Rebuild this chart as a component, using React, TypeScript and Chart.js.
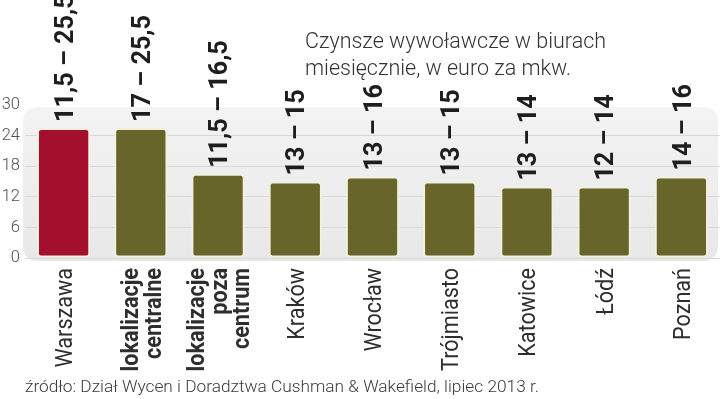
import React, { useEffect, useRef } from "react";
import { Chart, registerables } from "chart.js";

Chart.register(...registerables);

// ---- data ----
const categories: string[][] = [
  ["Warszawa"],
  ["lokalizacje", "centralne"],
  ["lokalizacje", "poza", "centrum"],
  ["Kraków"],
  ["Wrocław"],
  ["Trójmiasto"],
  ["Katowice"],
  ["Łódź"],
  ["Poznań"],
];
const boldCategory = [false, true, true, false, false, false, false, false, false];
const rentMin = [11.5, 17, 11.5, 13, 13, 13, 13, 12, 14];
const rentMax = [25.5, 25.5, 16.5, 15, 16, 15, 14, 14, 16];
const barColors = [
  "#a50f2e",
  "#67652a",
  "#67652a",
  "#67652a",
  "#67652a",
  "#67652a",
  "#67652a",
  "#67652a",
  "#67652a",
];
const yMin = 0;
const yMax = 30;
const yStep = 6;
const titleLines = ["Czynsze wywoławcze w biurach", "miesięcznie, w euro za mkw."];
const sourceText = "źródło: Dział Wycen i Doradztwa Cushman & Wakefield, lipiec 2013 r.";

const fmt = (v: number) => v.toString().replace(".", ",");
const valueLabels = rentMin.map((m, i) => `${fmt(m)} – ${fmt(rentMax[i])}`);

const decorPlugin = {
  id: "decor",
  beforeDraw(chart: any) {
    const { ctx, chartArea: a } = chart;
    ctx.save();
    const x0 = a.left - 2;
    const y0 = a.top + 2;
    const x1 = a.right - 2;
    const y1 = a.bottom + 3;
    const g = ctx.createLinearGradient(0, y0, 0, y1);
    g.addColorStop(0, "#f3f3f3");
    g.addColorStop(1, "#e8e8e8");
    ctx.beginPath();
    ctx.roundRect(x0, y0, x1 - x0, y1 - y0, 14);
    ctx.fillStyle = g;
    ctx.fill();
    ctx.restore();
  },
  afterDatasetsDraw(chart: any) {
    const { ctx } = chart;
    const meta = chart.getDatasetMeta(0);
    ctx.save();
    ctx.font = "700 26px Roboto";
    ctx.fillStyle = "#1e1e1e";
    ctx.textAlign = "left";
    ctx.textBaseline = "alphabetic";
    meta.data.forEach((bar: any, i: number) => {
      ctx.save();
      ctx.translate(bar.x + 9.2, bar.y - 6);
      ctx.rotate(-Math.PI / 2);
      ctx.scale(0.97, 1);
      ctx.fillText(valueLabels[i], 0, 0);
      ctx.restore();
    });
    ctx.restore();
  },
  afterDraw(chart: any) {
    const { ctx, chartArea: a } = chart;
    const xs = chart.scales.x;
    ctx.save();
    ctx.fillStyle = "#2e2e2e";
    ctx.textAlign = "right";
    ctx.textBaseline = "alphabetic";
    categories.forEach((lines, i) => {
      const cx = xs.getPixelForValue(i);
      ctx.font = `${boldCategory[i] ? 700 : 400} 24px Roboto`;
      lines.forEach((line, j) => {
        const lx = cx + (j - (lines.length - 1) / 2) * 22.5 + 8.5;
        ctx.save();
        ctx.translate(lx, a.bottom + 10);
        ctx.rotate(-Math.PI / 2);
        ctx.scale(0.9, 1);
        ctx.fillText(line, 0, 0);
        ctx.restore();
      });
    });
    // title
    ctx.textAlign = "left";
    ctx.fillStyle = "#333333";
    ctx.font = "300 21.5px Roboto";
    titleLines.forEach((t, i) => ctx.fillText(t, 305, 48 + i * 27));
    // source
    ctx.fillStyle = "#3a3a3a";
    ctx.font = "300 17.3px Roboto";
    ctx.fillText(sourceText, 25, 392);
    ctx.restore();
  },
};

export default function App() {
  const ref = useRef<HTMLCanvasElement | null>(null);
  useEffect(() => {
    if (!ref.current) return;
    const chart = new Chart(ref.current, {
      type: "bar",
      data: {
        labels: categories.map((c) => c.join(" ")),
        datasets: [
          {
            data: rentMax,
            backgroundColor: barColors,
            borderColor: "#f3f1dc",
            borderWidth: 2,
            borderRadius: 4,
            borderSkipped: false,
            barPercentage: 0.69,
            categoryPercentage: 1,
          },
        ],
      },
      options: {
        responsive: false,
        animation: false,
        layout: { padding: { top: 105, bottom: 141, left: 0, right: 0 } },
        plugins: {
          legend: { display: false },
          tooltip: { enabled: false },
          title: { display: false },
        },
        scales: {
          x: { display: false, offset: true },
          y: {
            min: yMin,
            max: yMax,
            ticks: {
              stepSize: yStep,
              padding: 5,
              color: "#505050",
              font: { family: "Roboto", size: 16.5, weight: "300" as any },
            },
            grid: {
              color: (c: any) => (c.tick && c.tick.value === yMax ? "rgba(0,0,0,0)" : "#d8d8d8"),
              drawTicks: false,
            },
            border: { display: false },
            afterFit: (s: any) => {
              s.width = 25;
            },
          },
        },
      },
      plugins: [decorPlugin],
    });
    return () => chart.destroy();
  }, []);
  return (
    <div style={{ position: "absolute", left: 0, top: 0, width: 720, height: 399 }}>
      <canvas ref={ref} width={720} height={399} />
    </div>
  );
}
